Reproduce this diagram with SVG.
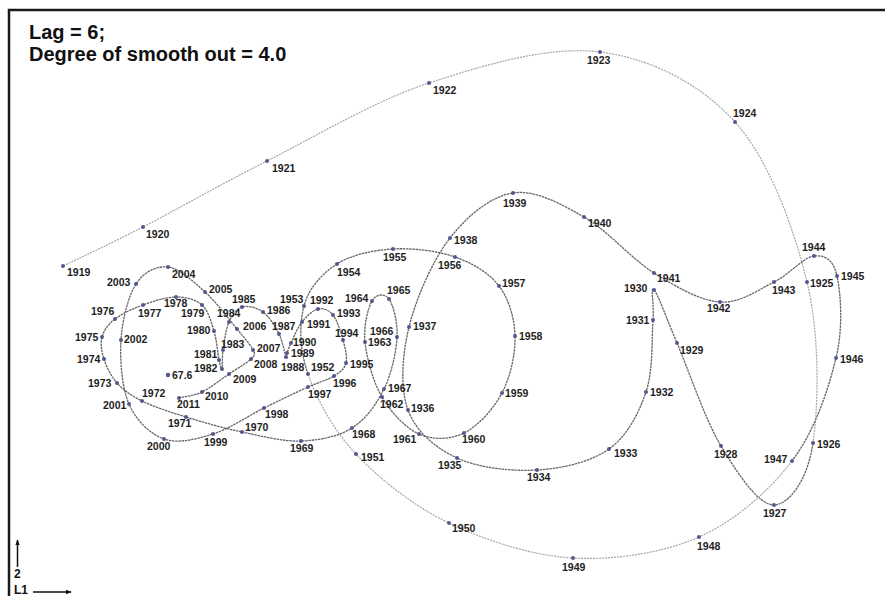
<svg xmlns="http://www.w3.org/2000/svg" width="885" height="596" viewBox="0 0 885 596">
<style>
.frame{fill:none;stroke:#1a1a1a;stroke-width:2.5}
.title{font-family:"Liberation Sans",Arial,sans-serif;font-weight:bold;font-size:20px;fill:#111}
.ax{font-family:"Liberation Sans",Arial,sans-serif;font-weight:bold;font-size:12px;fill:#111}
.axl{stroke:#111;stroke-width:1.5;fill:none}
.cl{fill:none;stroke:#a6a6a6;stroke-width:1.2;stroke-dasharray:2 1}
.cd{fill:none;stroke:#666;stroke-width:1.3;stroke-dasharray:2.5 0.7}
circle{fill:#55558f}
text.l{font-family:"Liberation Sans",Arial,sans-serif;font-weight:bold;font-size:10.5px;fill:#1e1e1e}
</style>
<defs>
<marker id="ah" viewBox="0 0 8 8" refX="7" refY="4" markerWidth="6" markerHeight="6" orient="auto" markerUnits="userSpaceOnUse">
<path d="M0,1 L8,4 L0,7 Z" fill="#111"/>
</marker>
</defs>
<rect width="885" height="596" fill="#fff"/>
<path class="frame" d="M9,597 V10 H886"/>
<text class="title" x="29" y="39">Lag = 6;</text>
<text class="title" x="29" y="61">Degree of smooth out = 4.0</text>
<g id="axes">
<line class="axl" x1="17.5" y1="567" x2="17.5" y2="540" marker-end="url(#ah)"/>
<line class="axl" x1="33" y1="592" x2="71" y2="592" marker-end="url(#ah)"/>
<text class="ax" x="14" y="578">2</text>
<text class="ax" x="14" y="594">L1</text>
</g>
<g id="connectors">
<path class="cl" d="M63,266 C90,253 109,244.5 143,227 S219.3,185 267,161 S373.5,101.2 429,83 S549,45.5 600,52 S700.5,83.7 735,122 S794,228.5 807,282 S818.5,405.8 813,443"/>
<path class="cd" d="M813,443 C807.5,480.2 789.3,504.5 774,505 S737.2,473 721,446 S688.2,369 677,343 S658,293.8 654,290 S654.3,303 653,320 S653.3,370.5 646,392 S627.2,436 609,449 S562.3,468.5 537,470 S478.5,468 457,458 S416,431.8 408,410 S402,355.7 409,327 S432.7,260.3 450,238 S490.7,196.5 513,193 S560.5,203.7 584,217 S631.3,258.8 654,273 S700,300.5 720,302 S758.3,289.7 774,282 S803.5,257 814,256 S833.3,259 837,276 S843.5,327.2 836,358 S814.8,431.2 792,461"/>
<path class="cl" d="M792,461 C769.2,490.8 735.5,520.8 699,537 S614.7,560.3 573,558 S485.2,540.3 449,523 S379.5,478.8 356,454 S316.7,398.7 308,374"/>
<path class="cd" d="M308,374 C299.3,349.3 299.2,324.3 304,306 S322.2,273.5 337,264 S373.3,250.2 393,249 S437.3,250.8 455,257 S489,272.8 499,286 S514.5,318.2 515,336 S510.5,376.8 502,393 S477.8,426.2 464,433 S432.7,440 419,434 S391,412.3 382,397 S366.7,358 365,342 S368,308.2 372,301 S384.8,293 389,299 S397.8,322 397,337 S391.5,373.8 384,389 S365.8,419.3 352,428 S319.3,440.3 301,441 S261.2,436 242,432 S202.7,422.2 186,417 S153.5,406.7 142,401 S123.3,390 117,383 S106.5,366.7 104,359 S100.2,343.7 102,337 S108.2,324.3 115,319 S132.8,308.7 143,305 S166.2,297 176,297 S195.7,299.3 202,305 S211.2,321.8 214,331 S217.7,353.7 219,360 S221.3,370.7 222,369 S221.8,357.8 223,350 S225.8,329.2 229,322 S236.3,308.7 242,307 S256.8,307.5 263,312 S275.2,326.5 279,334 S284.7,353.8 286,357 S286.2,355.3 287,353 S288.5,348.2 291,343 S297.5,327.7 302,322 S312.8,310.2 318,309 S328.8,309.8 333,315 S340.8,332 343,340 S347.5,357 346,363 S340.3,372 334,376 S319.7,381.7 308,387 S279.8,400.2 264,408 S229.7,428.8 213,434 S178,444 164,439 S136.2,420.5 129,404 S119.8,360 121,340 S128.2,296.2 136,284 S156.5,265.7 168,267 S193.5,281.7 205,292 S229,319.3 237,329 S250.7,345 253,350 S255,355 251,359 S237.2,368.5 229,374 S210.3,388 202,392 S186.7,396 179,398"/>
</g>
<g id="n1919"><circle cx="63" cy="266" r="2"/><text class="l" x="67" y="276">1919</text></g>
<g id="n1920"><circle cx="143" cy="227" r="2"/><text class="l" x="146" y="238">1920</text></g>
<g id="n1921"><circle cx="267" cy="161" r="2"/><text class="l" x="272" y="172">1921</text></g>
<g id="n1922"><circle cx="429" cy="83" r="2"/><text class="l" x="433" y="94">1922</text></g>
<g id="n1923"><circle cx="600" cy="52" r="2"/><text class="l" x="587" y="64">1923</text></g>
<g id="n1924"><circle cx="735" cy="122" r="2"/><text class="l" x="733" y="117">1924</text></g>
<g id="n1925"><circle cx="807" cy="282" r="2"/><text class="l" x="810" y="287">1925</text></g>
<g id="n1926"><circle cx="813" cy="443" r="2"/><text class="l" x="817" y="448">1926</text></g>
<g id="n1927"><circle cx="774" cy="505" r="2"/><text class="l" x="763" y="517">1927</text></g>
<g id="n1928"><circle cx="721" cy="446" r="2"/><text class="l" x="714" y="458">1928</text></g>
<g id="n1929"><circle cx="677" cy="343" r="2"/><text class="l" x="680" y="354">1929</text></g>
<g id="n1930"><circle cx="654" cy="290" r="2"/><text class="l" x="624" y="292">1930</text></g>
<g id="n1931"><circle cx="653" cy="320" r="2"/><text class="l" x="626" y="324">1931</text></g>
<g id="n1932"><circle cx="646" cy="392" r="2"/><text class="l" x="650" y="396">1932</text></g>
<g id="n1933"><circle cx="609" cy="449" r="2"/><text class="l" x="614" y="457">1933</text></g>
<g id="n1934"><circle cx="537" cy="470" r="2"/><text class="l" x="527" y="481">1934</text></g>
<g id="n1935"><circle cx="457" cy="458" r="2"/><text class="l" x="438" y="469">1935</text></g>
<g id="n1936"><circle cx="408" cy="410" r="2"/><text class="l" x="411" y="412">1936</text></g>
<g id="n1937"><circle cx="409" cy="327" r="2"/><text class="l" x="413" y="330">1937</text></g>
<g id="n1938"><circle cx="450" cy="238" r="2"/><text class="l" x="454" y="244">1938</text></g>
<g id="n1939"><circle cx="513" cy="193" r="2"/><text class="l" x="503" y="207">1939</text></g>
<g id="n1940"><circle cx="584" cy="217" r="2"/><text class="l" x="588" y="227">1940</text></g>
<g id="n1941"><circle cx="654" cy="273" r="2"/><text class="l" x="657" y="282">1941</text></g>
<g id="n1942"><circle cx="720" cy="302" r="2"/><text class="l" x="707" y="312">1942</text></g>
<g id="n1943"><circle cx="774" cy="282" r="2"/><text class="l" x="772" y="294">1943</text></g>
<g id="n1944"><circle cx="814" cy="256" r="2"/><text class="l" x="802" y="251">1944</text></g>
<g id="n1945"><circle cx="837" cy="276" r="2"/><text class="l" x="841" y="280">1945</text></g>
<g id="n1946"><circle cx="836" cy="358" r="2"/><text class="l" x="840" y="363">1946</text></g>
<g id="n1947"><circle cx="792" cy="461" r="2"/><text class="l" x="764" y="463">1947</text></g>
<g id="n1948"><circle cx="699" cy="537" r="2"/><text class="l" x="697" y="550">1948</text></g>
<g id="n1949"><circle cx="573" cy="558" r="2"/><text class="l" x="562" y="571">1949</text></g>
<g id="n1950"><circle cx="449" cy="523" r="2"/><text class="l" x="452" y="532">1950</text></g>
<g id="n1951"><circle cx="356" cy="454" r="2"/><text class="l" x="361" y="461">1951</text></g>
<g id="n1952"><circle cx="308" cy="374" r="2"/><text class="l" x="311" y="371">1952</text></g>
<g id="n1953"><circle cx="304" cy="306" r="2"/><text class="l" x="280" y="303">1953</text></g>
<g id="n1954"><circle cx="337" cy="264" r="2"/><text class="l" x="337" y="276">1954</text></g>
<g id="n1955"><circle cx="393" cy="249" r="2"/><text class="l" x="383" y="261">1955</text></g>
<g id="n1956"><circle cx="455" cy="257" r="2"/><text class="l" x="438" y="269">1956</text></g>
<g id="n1957"><circle cx="499" cy="286" r="2"/><text class="l" x="502" y="287">1957</text></g>
<g id="n1958"><circle cx="515" cy="336" r="2"/><text class="l" x="519" y="340">1958</text></g>
<g id="n1959"><circle cx="502" cy="393" r="2"/><text class="l" x="505" y="397">1959</text></g>
<g id="n1960"><circle cx="464" cy="433" r="2"/><text class="l" x="462" y="443">1960</text></g>
<g id="n1961"><circle cx="419" cy="434" r="2"/><text class="l" x="393" y="443">1961</text></g>
<g id="n1962"><circle cx="382" cy="397" r="2"/><text class="l" x="380" y="408">1962</text></g>
<g id="n1963"><circle cx="365" cy="342" r="2"/><text class="l" x="368" y="346">1963</text></g>
<g id="n1964"><circle cx="372" cy="301" r="2"/><text class="l" x="345" y="302">1964</text></g>
<g id="n1965"><circle cx="389" cy="299" r="2"/><text class="l" x="387" y="294">1965</text></g>
<g id="n1966"><circle cx="397" cy="337" r="2"/><text class="l" x="370" y="335">1966</text></g>
<g id="n1967"><circle cx="384" cy="389" r="2"/><text class="l" x="388" y="392">1967</text></g>
<g id="n1968"><circle cx="352" cy="428" r="2"/><text class="l" x="352" y="438">1968</text></g>
<g id="n1969"><circle cx="301" cy="441" r="2"/><text class="l" x="290" y="452">1969</text></g>
<g id="n1970"><circle cx="242" cy="432" r="2"/><text class="l" x="245" y="431">1970</text></g>
<g id="n1971"><circle cx="186" cy="417" r="2"/><text class="l" x="168" y="427">1971</text></g>
<g id="n1972"><circle cx="142" cy="401" r="2"/><text class="l" x="142" y="397">1972</text></g>
<g id="n1973"><circle cx="117" cy="383" r="2"/><text class="l" x="88" y="387">1973</text></g>
<g id="n1974"><circle cx="104" cy="359" r="2"/><text class="l" x="77" y="363">1974</text></g>
<g id="n1975"><circle cx="102" cy="337" r="2"/><text class="l" x="75" y="341">1975</text></g>
<g id="n1976"><circle cx="115" cy="319" r="2"/><text class="l" x="91" y="315">1976</text></g>
<g id="n1977"><circle cx="143" cy="305" r="2"/><text class="l" x="138" y="317">1977</text></g>
<g id="n1978"><circle cx="176" cy="297" r="2"/><text class="l" x="164" y="307">1978</text></g>
<g id="n1979"><circle cx="202" cy="305" r="2"/><text class="l" x="181" y="317">1979</text></g>
<g id="n1980"><circle cx="214" cy="331" r="2"/><text class="l" x="187" y="334">1980</text></g>
<g id="n1981"><circle cx="219" cy="360" r="2"/><text class="l" x="194" y="358">1981</text></g>
<g id="n1982"><circle cx="222" cy="369" r="2"/><text class="l" x="194" y="372">1982</text></g>
<g id="n1983"><circle cx="223" cy="350" r="2"/><text class="l" x="221" y="348">1983</text></g>
<g id="n1984"><circle cx="229" cy="322" r="2"/><text class="l" x="217" y="317">1984</text></g>
<g id="n1985"><circle cx="242" cy="307" r="2"/><text class="l" x="232" y="303">1985</text></g>
<g id="n1986"><circle cx="263" cy="312" r="2"/><text class="l" x="267" y="314">1986</text></g>
<g id="n1987"><circle cx="279" cy="334" r="2"/><text class="l" x="272" y="330">1987</text></g>
<g id="n1988"><circle cx="286" cy="357" r="2"/><text class="l" x="281" y="371">1988</text></g>
<g id="n1989"><circle cx="287" cy="353" r="2"/><text class="l" x="291" y="357">1989</text></g>
<g id="n1990"><circle cx="291" cy="343" r="2"/><text class="l" x="293" y="346">1990</text></g>
<g id="n1991"><circle cx="302" cy="322" r="2"/><text class="l" x="307" y="328">1991</text></g>
<g id="n1992"><circle cx="318" cy="309" r="2"/><text class="l" x="310" y="304">1992</text></g>
<g id="n1993"><circle cx="333" cy="315" r="2"/><text class="l" x="337" y="317">1993</text></g>
<g id="n1994"><circle cx="343" cy="340" r="2"/><text class="l" x="335" y="337">1994</text></g>
<g id="n1995"><circle cx="346" cy="363" r="2"/><text class="l" x="350" y="368">1995</text></g>
<g id="n1996"><circle cx="334" cy="376" r="2"/><text class="l" x="333" y="387">1996</text></g>
<g id="n1997"><circle cx="308" cy="387" r="2"/><text class="l" x="308" y="398">1997</text></g>
<g id="n1998"><circle cx="264" cy="408" r="2"/><text class="l" x="265" y="418">1998</text></g>
<g id="n1999"><circle cx="213" cy="434" r="2"/><text class="l" x="204" y="446">1999</text></g>
<g id="n2000"><circle cx="164" cy="439" r="2"/><text class="l" x="147" y="450">2000</text></g>
<g id="n2001"><circle cx="129" cy="404" r="2"/><text class="l" x="103" y="409">2001</text></g>
<g id="n2002"><circle cx="121" cy="340" r="2"/><text class="l" x="124" y="343">2002</text></g>
<g id="n2003"><circle cx="136" cy="284" r="2"/><text class="l" x="107" y="286">2003</text></g>
<g id="n2004"><circle cx="168" cy="267" r="2"/><text class="l" x="172" y="278">2004</text></g>
<g id="n2005"><circle cx="205" cy="292" r="2"/><text class="l" x="209" y="293">2005</text></g>
<g id="n2006"><circle cx="237" cy="329" r="2"/><text class="l" x="243" y="330">2006</text></g>
<g id="n2007"><circle cx="253" cy="350" r="2"/><text class="l" x="257" y="352">2007</text></g>
<g id="n2008"><circle cx="251" cy="359" r="2"/><text class="l" x="254" y="368">2008</text></g>
<g id="n2009"><circle cx="229" cy="374" r="2"/><text class="l" x="233" y="383">2009</text></g>
<g id="n2010"><circle cx="202" cy="392" r="2"/><text class="l" x="205" y="400">2010</text></g>
<g id="n2011"><circle cx="179" cy="398" r="2"/><text class="l" x="177" y="408">2011</text></g>
<g id="n67_6"><circle cx="168" cy="375" r="2.2"/><text class="l" x="172" y="379">67.6</text></g>
</svg>
